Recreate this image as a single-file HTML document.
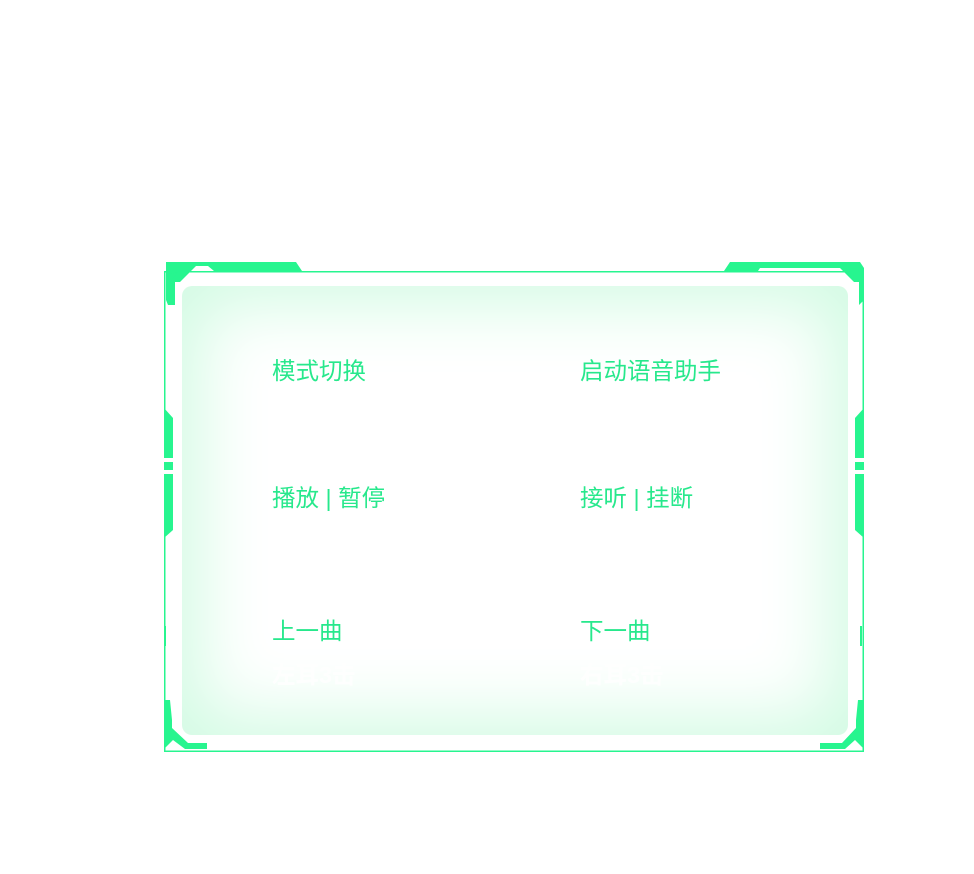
<!DOCTYPE html>
<html><head><meta charset="utf-8"><style>
html,body{margin:0;padding:0;background:#fff;width:974px;height:874px;overflow:hidden;position:relative;font-family:"Liberation Sans","Noto Sans CJK SC",sans-serif}
.panel{position:absolute;left:182px;top:286px;width:666px;height:449px;border-radius:10px;background:#fff;box-shadow:inset 0 0 70px 18px #d2fbe3}
.t{position:absolute;font-size:23.5px;color:#27e88c;line-height:26px;white-space:nowrap}
.w{position:absolute;font-size:23.5px;color:#fff;font-weight:bold;line-height:26px;white-space:nowrap;opacity:.9}
svg{position:absolute;left:0;top:0}
</style></head><body>
<div class="panel"></div>
<svg width="974" height="874">
<g fill="#27f58f" stroke="none">
<rect x="164" y="271" width="700" height="1.5"/>
<rect x="164" y="750.5" width="700" height="1.5"/>
<rect x="164" y="271" width="1.5" height="481"/>
<rect x="862.5" y="271" width="1.5" height="481"/>
<polygon points="166,262 296,262 302,271 214,271 208,266 196,266 180,282 175,282 175,305 168,305 166,300"/>
<polygon points="167,275 178,272 170,282"/>
<polygon points="730,262 860,262 864,268 864,300 859,305 859,282 854,282 840,268 760,268 758,271 724,271"/>
<polygon points="164,408 173,418 173,530 164,538"/>
<polygon points="864,408 855,418 855,530 864,538"/>
<polygon points="164,700 170,700 172,720 172,728 188,743 207,743 207,749 185,749 173,740 164,749"/>
<polygon points="864,700 858,700 856,720 856,728 842,743 820,743 820,749 845,749 855,740 864,749"/>
<rect x="164" y="626" width="2" height="20"/>
<rect x="860" y="626" width="2" height="20"/>
</g>
<g fill="#fff"><rect x="164" y="458" width="10" height="4"/><rect x="164" y="470" width="10" height="4"/><rect x="855" y="458" width="10" height="4"/><rect x="855" y="470" width="10" height="4"/></g>
</svg>
<div class="t" style="left:272px;top:358px">模式切换</div>
<div class="t" style="left:580px;top:358px">启动语音助手</div>
<div class="t" style="left:272px;top:485px">播放 | 暂停</div>
<div class="t" style="left:580px;top:485px">接听 | 挂断</div>
<div class="t" style="left:272px;top:618px">上一曲</div>
<div class="t" style="left:580px;top:618px">下一曲</div>
<div class="w" style="left:272px;top:662px">左耳3击</div>
<div class="w" style="left:580px;top:662px">右耳3击</div>
</body></html>
